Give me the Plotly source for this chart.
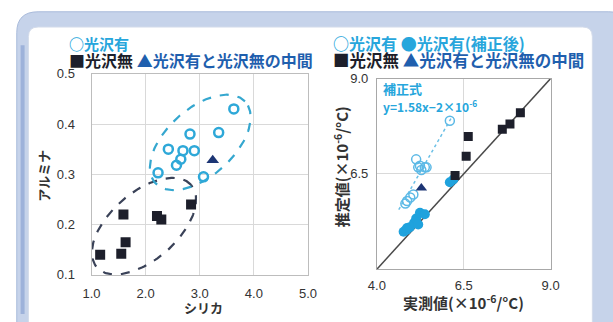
import numpy as np
import plotly.graph_objects as go

W, H = 613, 322

# ---------------- data: left panel (シリカ vs アルミナ) ----------------
gloss_silica = [2.23, 2.42, 2.57, 2.65, 2.69, 2.82, 2.90, 3.07, 3.35, 3.63]
gloss_alumina = [0.303, 0.350, 0.318, 0.330, 0.347, 0.380, 0.347, 0.295, 0.383, 0.430]
matte_silica = [1.16, 1.55, 1.63, 1.59, 2.21, 2.29, 2.84]
matte_alumina = [0.140, 0.142, 0.165, 0.220, 0.217, 0.210, 0.240]
mid_silica = [3.24]
mid_alumina = [0.328]

# ---------------- data: right panel (実測値 vs 推定値) ----------------
matte_meas = [6.25, 6.57, 6.63, 7.61, 7.83, 8.13]
matte_est = [6.46, 6.96, 7.48, 7.67, 7.81, 8.10]
gloss_meas = [4.82, 4.87, 4.96, 5.05, 5.13, 5.19, 5.24, 5.28, 5.38, 5.43, 6.10]
gloss_est = [5.72, 5.79, 5.88, 5.96, 6.88, 6.67, 6.71, 6.60, 6.67, 6.67, 7.89]
corr_meas = [4.77, 4.85, 4.87, 4.95, 5.07, 5.13, 5.19, 5.24, 5.38, 6.10, 6.20]
corr_est = [4.98, 5.03, 5.08, 5.10, 5.21, 5.33, 5.17, 5.48, 5.44, 6.28, 6.35]
mid_meas = [5.28]
mid_est = [6.13]
diag_vals = [4.0, 9.0]
fit_meas = [4.63, 6.15]
fit_est = [5.56, 7.98]

left_xticks = [1.0, 2.0, 3.0, 4.0, 5.0]
left_yticks = [0.1, 0.2, 0.3, 0.4, 0.5]
right_xticks = [4.0, 6.5, 9.0]
right_yticks = [6.5, 9.0]

# ---------------- layout geometry (pixels) ----------------
L = dict(x0=85, x1=308, y0=70, y1=281, xr=(1.0, 5.0), yr=(0.1, 0.5))
R = dict(x0=379, x1=558, y0=75, y1=275, xr=(4.0, 9.0), yr=(4.0, 9.0))

def px(x):
    return x / W

def py(y):
    return 1 - y / H

CYAN = "#27a6dc"
OPEN_C = "#2ea8d8"
DARK = "#1d1f2b"
NAVY = "#1c3574"
BLUE_T = "#1f5fae"
TXT = "#333333"
FONT = "Noto Sans CJK JP"

def ellipse(panel, cx, cy, a_px, b_px, ang_deg, n=200):
    sx = (panel["x1"] - panel["x0"]) / (panel["xr"][1] - panel["xr"][0])
    sy = (panel["y1"] - panel["y0"]) / (panel["yr"][1] - panel["yr"][0])
    t = np.linspace(0, 2 * np.pi, n)
    th = np.radians(ang_deg)
    u = a_px * np.cos(t)
    v = b_px * np.sin(t)
    dx = u * np.cos(th) - v * np.sin(th)
    dy = u * np.sin(th) + v * np.cos(th)
    return cx + dx / sx, cy + dy / sy

fig = go.Figure()

# ellipses
ex, ey = ellipse(L, 1.97, 0.197, 65, 35, 42)
fig.add_trace(go.Scatter(x=ex, y=ey, mode="lines", xaxis="x", yaxis="y",
                         line=dict(color="#3a4258", width=2.2, dash="dash"), hoverinfo="skip"))
ex, ey = ellipse(L, 3.01, 0.3635, 63, 35, 43)
fig.add_trace(go.Scatter(x=ex, y=ey, mode="lines", xaxis="x", yaxis="y",
                         line=dict(color="#35a7cf", width=2.2, dash="dash"), hoverinfo="skip"))

# left markers
fig.add_trace(go.Scatter(x=matte_silica, y=matte_alumina, mode="markers", xaxis="x", yaxis="y",
                         marker=dict(symbol="square", size=10, color=DARK)))
fig.add_trace(go.Scatter(x=gloss_silica, y=gloss_alumina, mode="markers", xaxis="x", yaxis="y",
                         marker=dict(symbol="circle-open", size=9, color=OPEN_C, line=dict(width=2.5))))
fig.add_trace(go.Scatter(x=mid_silica, y=mid_alumina, mode="markers", xaxis="x", yaxis="y",
                         marker=dict(symbol="triangle-up", size=11, color=NAVY)))

# right panel
fig.add_trace(go.Scatter(x=diag_vals, y=diag_vals, mode="lines", xaxis="x2", yaxis="y2",
                         line=dict(color="#4a4a4a", width=1.5), hoverinfo="skip"))
fig.add_trace(go.Scatter(x=fit_meas, y=fit_est, mode="lines", xaxis="x2", yaxis="y2",
                         line=dict(color="#6cc0e6", width=1.5, dash="dot"), hoverinfo="skip"))
fig.add_trace(go.Scatter(x=corr_meas, y=corr_est, mode="markers", xaxis="x2", yaxis="y2",
                         marker=dict(symbol="circle", size=10, color="#1fa2dd")))
fig.add_trace(go.Scatter(x=gloss_meas, y=gloss_est, mode="markers", xaxis="x2", yaxis="y2",
                         marker=dict(symbol="circle-open", size=9, color="#5cb9e6", line=dict(width=1.5))))
fig.add_trace(go.Scatter(x=matte_meas, y=matte_est, mode="markers", xaxis="x2", yaxis="y2",
                         marker=dict(symbol="square", size=9, color=DARK)))
fig.add_trace(go.Scatter(x=mid_meas, y=mid_est, mode="markers", xaxis="x2", yaxis="y2",
                         marker=dict(symbol="triangle-up", size=10, color=NAVY)))

axis_common = dict(showline=True, mirror=True, linecolor="#bdbdbd", linewidth=1,
                   gridcolor="#d9d9d9", gridwidth=1, zeroline=False, ticks="",
                   tickfont=dict(family="Liberation Sans", size=13, color=TXT))

fig.update_layout(
    width=W, height=H,
    margin=dict(l=0, r=0, t=0, b=0),
    paper_bgcolor="white", plot_bgcolor="white",
    showlegend=False,
    xaxis=dict(axis_common, domain=[px(L["x0"]), px(L["x1"])], range=list(L["xr"]),
               tickvals=left_xticks, ticktext=[f"{v:.1f}" for v in left_xticks],
               anchor="y", ticklabelstandoff=6),
    yaxis=dict(axis_common, domain=[py(L["y1"]), py(L["y0"])], range=list(L["yr"]),
               tickvals=left_yticks, ticktext=[f"{v:.1f}" for v in left_yticks],
               anchor="x", ticklabelstandoff=13),
    xaxis2=dict(axis_common, domain=[px(R["x0"]), px(R["x1"])], range=list(R["xr"]),
                tickvals=right_xticks, ticktext=[f"{v:.1f}" for v in right_xticks],
                anchor="y2", linecolor="#a8a8a8", ticklabelstandoff=4,
                tickfont=dict(family="Liberation Sans", size=13, color=TXT)),
    yaxis2=dict(axis_common, domain=[py(R["y1"]), py(R["y0"])], range=list(R["yr"]),
                tickvals=right_yticks, ticktext=[f"{v:.1f}" for v in right_yticks],
                anchor="x2", linecolor="#a8a8a8", ticklabelstandoff=5,
                tickfont=dict(family="Liberation Sans", size=13, color=TXT)),
)

# ---------------- frame ----------------
def rrect(x0, y0, x1, y1, r):
    X = lambda v: f"{px(v):.5f}"
    Y = lambda v: f"{py(v):.5f}"
    return (f"M {X(x0 + r)} {Y(y0)} L {X(x1 - r)} {Y(y0)} Q {X(x1)} {Y(y0)} {X(x1)} {Y(y0 + r)} "
            f"L {X(x1)} {Y(y1 - r)} Q {X(x1)} {Y(y1)} {X(x1 - r)} {Y(y1)} "
            f"L {X(x0 + r)} {Y(y1)} Q {X(x0)} {Y(y1)} {X(x0)} {Y(y1 - r)} "
            f"L {X(x0)} {Y(y0 + r)} Q {X(x0)} {Y(y0)} {X(x0 + r)} {Y(y0)} Z")

fig.add_shape(type="path", xref="paper", yref="paper", layer="below",
              path=rrect(8, 5, 640, 360, 22), fillcolor="#c6d3ea", line=dict(color="#a9bbdb", width=1))
fig.add_shape(type="path", xref="paper", yref="paper", layer="below",
              path=rrect(20, 21, 601, 360, 10), fillcolor="white", line=dict(color="#d3dbea", width=1))
fig.add_shape(type="line", xref="paper", yref="paper", layer="below",
              x0=px(14), x1=px(14), y0=py(40), y1=py(322), line=dict(color="#9db2da", width=4))

# ---------------- texts ----------------
def ann(x, y, text, size=13, color=TXT, xanchor="left", angle=0, bold=True):
    fig.add_annotation(x=px(x), y=py(y), xref="paper", yref="paper", text=(f"<b>{text}</b>" if bold else text),
                       showarrow=False, xanchor=xanchor, yanchor="middle", textangle=angle,
                       font=dict(family=FONT, size=size, color=color))

ann(60, 38, "○光沢有", 15, CYAN)
ann(60, 56, f"<span style='color:{DARK}'>■光沢無</span> <span style='color:{BLUE_T}'>▲光沢有と光沢無の中間</span>", 16)
ann(332, 38, "○光沢有 ●光沢有(補正後)", 16, CYAN)
ann(332, 56, f"<span style='color:{DARK}'>■光沢無</span> <span style='color:{BLUE_T}'>▲光沢有と光沢無の中間</span>", 16.5)

ann(200, 315, "シリカ", 13, TXT, "center")
ann(36, 177, "アルミナ", 13, TXT, "center", -90)
ann(468, 309, "実測値(×10<sup>-6</sup>/°C)", 15, TXT, "center")
ann(342, 167, "推定値(×10<sup>-6</sup>/°C)", 15, TXT, "center", -90)

ann(383, 86, "補正式", 13, CYAN)
ann(383, 104, "y=1.58x−2×10<sup>-6</sup>", 12, CYAN)

fig.write_html("out.html")
